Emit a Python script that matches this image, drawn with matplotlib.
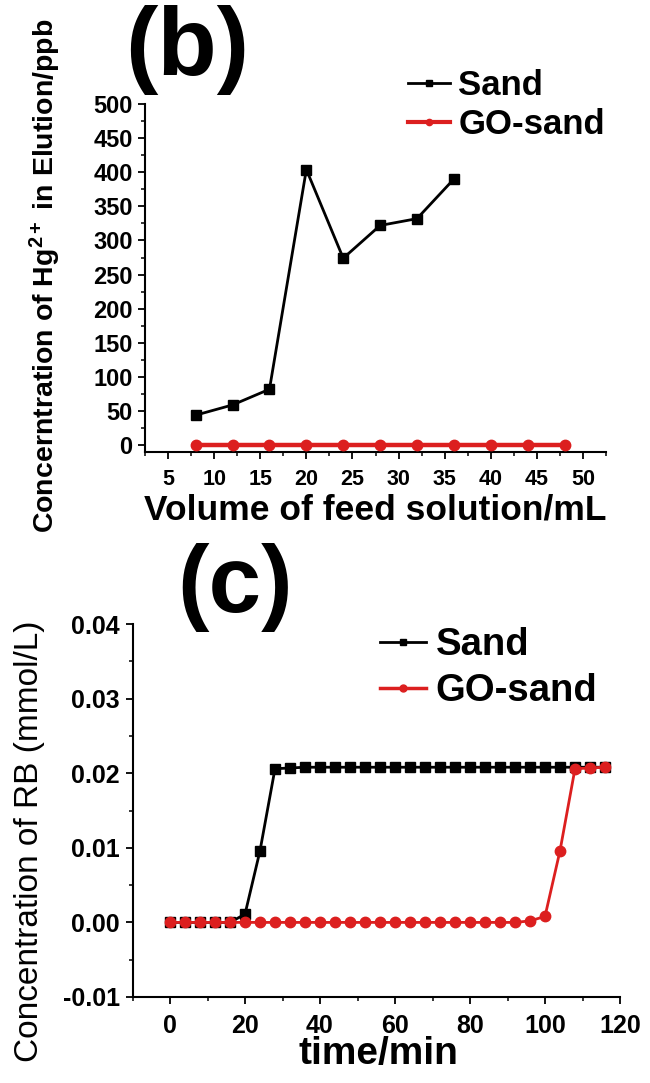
import matplotlib
matplotlib.use("Agg")
import matplotlib.pyplot as plt
from matplotlib.lines import Line2D
from matplotlib.ticker import MultipleLocator, FormatStrFormatter

plt.rcParams["font.family"] = ["Liberation Sans", "DejaVu Sans"]
plt.rcParams["font.weight"] = "bold"
plt.rcParams["mathtext.fontset"] = "custom"
plt.rcParams["mathtext.rm"] = "Liberation Sans:bold"
plt.rcParams["mathtext.it"] = "Liberation Sans:bold"
plt.rcParams["mathtext.bf"] = "Liberation Sans:bold"

RED = "#dc1f1f"

# panel (b) data
b_sand_x = [8, 12, 16, 20, 24, 28, 32, 36]
b_sand_y = [44, 59, 82, 404, 274, 322, 332, 390]
b_go_x = [8, 12, 16, 20, 24, 28, 32, 36, 40, 44, 48]
b_go_y = [0, 0, 0, 0, 0, 0, 0, 0, 0, 0, 0]

# panel (c) data
c_time = [0, 4, 8, 12, 16, 20, 24, 28, 32, 36, 40, 44, 48, 52, 56, 60, 64, 68,
          72, 76, 80, 84, 88, 92, 96, 100, 104, 108, 112, 116]
c_sand = [0, 0, 0, 0, 0, 0.0011, 0.0096, 0.0206, 0.0207, 0.0208, 0.0208, 0.0208,
          0.0208, 0.0208, 0.0208, 0.0208, 0.0208, 0.0208, 0.0208, 0.0208, 0.0208,
          0.0208, 0.0208, 0.0208, 0.0208, 0.0208, 0.0208, 0.0208, 0.0208, 0.0208]
c_go = [0, 0, 0, 0, 0, 0, 0, 0, 0, 0, 0, 0, 0, 0, 0, 0, 0, 0, 0, 0, 0, 0, 0, 0,
        0.0002, 0.0008, 0.0096, 0.0206, 0.0207, 0.0208]

W, H = 650, 1083
fig = plt.figure(figsize=(W / 100, H / 100), dpi=100)


def box(l, r, t, b):
    return [l / W, 1 - b / H, (r - l) / W, (b - t) / H]


def style(ax, xsize, ysize):
    for s in ["top", "right"]:
        ax.spines[s].set_visible(False)
    for s in ["left", "bottom"]:
        ax.spines[s].set_linewidth(1.5)
    ax.tick_params(which="major", direction="out", length=5, width=1.3)
    ax.tick_params(which="minor", direction="out", length=3, width=1.1)
    ax.tick_params(axis="x", labelsize=xsize, pad=7)
    ax.tick_params(axis="y", labelsize=ysize, pad=4)


# ---- (b)
ax1 = fig.add_axes(box(145, 606, 104, 452))
ax1.plot(b_sand_x, b_sand_y, color="black", lw=2, marker="s", ms=7, zorder=3)
ax1.plot(b_go_x, b_go_y, color=RED, lw=3.2, marker="o", ms=7.5, zorder=4)
ax1.set_xlim(2.5, 52.5)
ax1.set_ylim(-10, 500)
ax1.xaxis.set_major_locator(MultipleLocator(5))
ax1.xaxis.set_minor_locator(MultipleLocator(2.5))
ax1.yaxis.set_major_locator(MultipleLocator(50))
ax1.yaxis.set_minor_locator(MultipleLocator(25))
style(ax1, 15.5, 17)
h1 = [Line2D([], [], color="black", lw=2, marker="s", ms=4),
      Line2D([], [], color=RED, lw=3.0, marker="o", ms=4.5)]
fig.legend(h1, ["Sand", "GO-sand"], loc="upper left",
           bbox_to_anchor=(408 / W, 1 - 69 / H), frameon=False,
           prop={"size": 25, "weight": "bold"}, handlelength=1.2,
           handletextpad=0.25, labelspacing=0.17, borderpad=0, borderaxespad=0)
fig.text(187 / W, 1 - 75 / H, "(b)", fontsize=70, fontweight="bold",
         ha="center", va="baseline")
fig.text(45 / W, 1 - 276 / H, "Concerntration of Hg$^{2+}$ in Elution/ppb",
         rotation=90, fontsize=20.5, fontweight="bold", ha="center", va="center")
fig.text(375 / W, 1 - 510 / H, "Volume of feed solution/mL", fontsize=25.5,
         fontweight="bold", ha="center", va="center")

# ---- (c)
ax2 = fig.add_axes(box(132.5, 620, 624, 997))
ax2.plot(c_time, c_sand, color="black", lw=2, marker="s", ms=7.2, zorder=3)
ax2.plot(c_time, c_go, color=RED, lw=2, marker="o", ms=7.5, zorder=4)
ax2.set_xlim(-10, 120)
ax2.set_ylim(-0.01, 0.04)
ax2.xaxis.set_major_locator(MultipleLocator(20))
ax2.xaxis.set_minor_locator(MultipleLocator(10))
ax2.yaxis.set_major_locator(MultipleLocator(0.01))
ax2.yaxis.set_minor_locator(MultipleLocator(0.005))
ax2.yaxis.set_major_formatter(FormatStrFormatter("%.2f"))
style(ax2, 18, 18)
h2 = [Line2D([], [], color="black", lw=2, marker="s", ms=4.5),
      Line2D([], [], color=RED, lw=2.5, marker="o", ms=5)]
fig.legend(h2, ["Sand", "GO-sand"], loc="upper left",
           bbox_to_anchor=(380 / W, 1 - 627 / H), frameon=False,
           prop={"size": 27.5, "weight": "bold"}, handlelength=1.2,
           handletextpad=0.25, labelspacing=0.27, borderpad=0, borderaxespad=0)
fig.text(235 / W, 1 - 612 / H, "(c)", fontsize=68, fontweight="bold",
         ha="center", va="baseline")
fig.text(30 / W, 1 - 841 / H, "Concentration of RB (mmol/L)", rotation=90,
         fontsize=24, fontweight="normal", ha="center", va="center")
fig.text(378 / W, 1 - 1054 / H, "time/min", fontsize=28, fontweight="bold",
         ha="center", va="center")

fig.savefig("out.png", dpi=100)
